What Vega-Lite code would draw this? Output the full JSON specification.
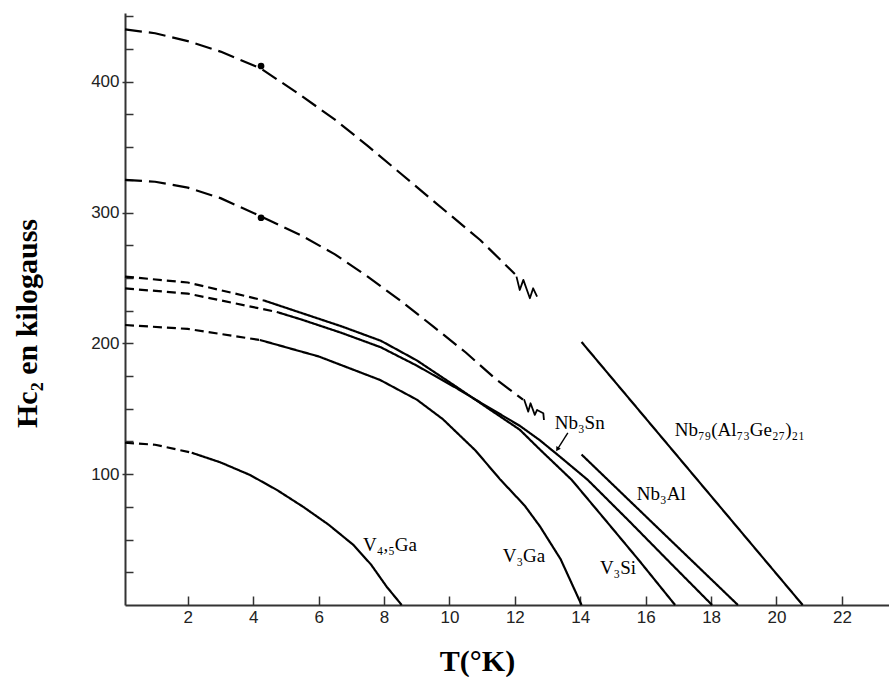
{
  "$schema": "https://vega.github.io/schema/vega-lite/v6.json",
  "width": 764,
  "height": 592,
  "autosize": {"type": "none"},
  "padding": {"left": 125, "top": 13, "right": 0, "bottom": 72},
  "background": "white",
  "config": {"view": {"stroke": null}, "axis": {"grid": false}},
  "resolve": {"axis": {"y": "independent"}},
  "datasets": {
    "curves": [
      {"serie": "V45Ga", "trace": "extrapole", "T": 0.08, "H": 124},
      {"serie": "V45Ga", "trace": "extrapole", "T": 1.0, "H": 122.5},
      {"serie": "V45Ga", "trace": "extrapole", "T": 2.12, "H": 116.4},
      {"serie": "V45Ga", "trace": "mesure", "T": 2.12, "H": 116.4},
      {"serie": "V45Ga", "trace": "mesure", "T": 3.0, "H": 109},
      {"serie": "V45Ga", "trace": "mesure", "T": 3.9, "H": 99.4},
      {"serie": "V45Ga", "trace": "mesure", "T": 4.72, "H": 88},
      {"serie": "V45Ga", "trace": "mesure", "T": 5.53, "H": 75},
      {"serie": "V45Ga", "trace": "mesure", "T": 6.3, "H": 61.5},
      {"serie": "V45Ga", "trace": "mesure", "T": 7.06, "H": 46},
      {"serie": "V45Ga", "trace": "mesure", "T": 7.6, "H": 31},
      {"serie": "V45Ga", "trace": "mesure", "T": 8.08, "H": 14},
      {"serie": "V45Ga", "trace": "mesure", "T": 8.54, "H": 0},

      {"serie": "V3Ga", "trace": "extrapole", "T": 0.08, "H": 214},
      {"serie": "V3Ga", "trace": "extrapole", "T": 2.0, "H": 211},
      {"serie": "V3Ga", "trace": "extrapole", "T": 4.2, "H": 202.6},
      {"serie": "V3Ga", "trace": "mesure", "T": 4.2, "H": 202.6},
      {"serie": "V3Ga", "trace": "mesure", "T": 6.0, "H": 190},
      {"serie": "V3Ga", "trace": "mesure", "T": 7.88, "H": 172},
      {"serie": "V3Ga", "trace": "mesure", "T": 9.0, "H": 157},
      {"serie": "V3Ga", "trace": "mesure", "T": 9.8, "H": 142},
      {"serie": "V3Ga", "trace": "mesure", "T": 10.8, "H": 118},
      {"serie": "V3Ga", "trace": "mesure", "T": 11.55, "H": 96},
      {"serie": "V3Ga", "trace": "mesure", "T": 12.3, "H": 76},
      {"serie": "V3Ga", "trace": "mesure", "T": 12.77, "H": 60},
      {"serie": "V3Ga", "trace": "mesure", "T": 13.4, "H": 35},
      {"serie": "V3Ga", "trace": "mesure", "T": 14.04, "H": 0},

      {"serie": "V3Si", "trace": "extrapole", "T": 0.08, "H": 251},
      {"serie": "V3Si", "trace": "extrapole", "T": 2.0, "H": 246.5},
      {"serie": "V3Si", "trace": "extrapole", "T": 4.3, "H": 233},
      {"serie": "V3Si", "trace": "mesure", "T": 4.3, "H": 233},
      {"serie": "V3Si", "trace": "mesure", "T": 5.5, "H": 223},
      {"serie": "V3Si", "trace": "mesure", "T": 6.7, "H": 213},
      {"serie": "V3Si", "trace": "mesure", "T": 7.9, "H": 202},
      {"serie": "V3Si", "trace": "mesure", "T": 9.0, "H": 187},
      {"serie": "V3Si", "trace": "mesure", "T": 10.2, "H": 167},
      {"serie": "V3Si", "trace": "mesure", "T": 11.2, "H": 150},
      {"serie": "V3Si", "trace": "mesure", "T": 12.15, "H": 134},
      {"serie": "V3Si", "trace": "mesure", "T": 12.76, "H": 119},
      {"serie": "V3Si", "trace": "mesure", "T": 13.74, "H": 95.6},
      {"serie": "V3Si", "trace": "mesure", "T": 14.8, "H": 64},
      {"serie": "V3Si", "trace": "mesure", "T": 15.8, "H": 34},
      {"serie": "V3Si", "trace": "mesure", "T": 16.9, "H": 0},

      {"serie": "Nb3Sn", "trace": "extrapole", "T": 0.08, "H": 242},
      {"serie": "Nb3Sn", "trace": "extrapole", "T": 2.0, "H": 238},
      {"serie": "Nb3Sn", "trace": "extrapole", "T": 4.72, "H": 224},
      {"serie": "Nb3Sn", "trace": "mesure", "T": 4.72, "H": 224},
      {"serie": "Nb3Sn", "trace": "mesure", "T": 5.5, "H": 218},
      {"serie": "Nb3Sn", "trace": "mesure", "T": 6.7, "H": 208},
      {"serie": "Nb3Sn", "trace": "mesure", "T": 7.9, "H": 197},
      {"serie": "Nb3Sn", "trace": "mesure", "T": 9.0, "H": 183},
      {"serie": "Nb3Sn", "trace": "mesure", "T": 10.2, "H": 166},
      {"serie": "Nb3Sn", "trace": "mesure", "T": 11.2, "H": 151},
      {"serie": "Nb3Sn", "trace": "mesure", "T": 12.15, "H": 137},
      {"serie": "Nb3Sn", "trace": "mesure", "T": 12.76, "H": 126},
      {"serie": "Nb3Sn", "trace": "mesure", "T": 13.3, "H": 115},
      {"serie": "Nb3Sn", "trace": "mesure", "T": 14.23, "H": 95.6},
      {"serie": "Nb3Sn", "trace": "mesure", "T": 15.5, "H": 64},
      {"serie": "Nb3Sn", "trace": "mesure", "T": 16.8, "H": 31},
      {"serie": "Nb3Sn", "trace": "mesure", "T": 18.03, "H": 0},

      {"serie": "Nb3Al", "trace": "mesure", "T": 14.04, "H": 115},
      {"serie": "Nb3Al", "trace": "mesure", "T": 18.82, "H": 0},

      {"serie": "Nb79", "trace": "mesure", "T": 14.04, "H": 201},
      {"serie": "Nb79", "trace": "mesure", "T": 20.8, "H": 0},

      {"serie": "haut", "trace": "estime", "T": 0.08, "H": 440},
      {"serie": "haut", "trace": "estime", "T": 1.0, "H": 437},
      {"serie": "haut", "trace": "estime", "T": 2.0, "H": 431},
      {"serie": "haut", "trace": "estime", "T": 3.0, "H": 423},
      {"serie": "haut", "trace": "estime", "T": 4.24, "H": 410},
      {"serie": "haut", "trace": "estime", "T": 5.43, "H": 390},
      {"serie": "haut", "trace": "estime", "T": 6.5, "H": 371},
      {"serie": "haut", "trace": "estime", "T": 7.5, "H": 351},
      {"serie": "haut", "trace": "estime", "T": 8.5, "H": 330},
      {"serie": "haut", "trace": "estime", "T": 9.5, "H": 309},
      {"serie": "haut", "trace": "estime", "T": 10.94, "H": 279},
      {"serie": "haut", "trace": "estime", "T": 12.0, "H": 253},

      {"serie": "milieu", "trace": "estime", "T": 0.08, "H": 325},
      {"serie": "milieu", "trace": "estime", "T": 1.0, "H": 323.5},
      {"serie": "milieu", "trace": "estime", "T": 2.0, "H": 319},
      {"serie": "milieu", "trace": "estime", "T": 3.0, "H": 311},
      {"serie": "milieu", "trace": "estime", "T": 4.24, "H": 297},
      {"serie": "milieu", "trace": "estime", "T": 5.43, "H": 283},
      {"serie": "milieu", "trace": "estime", "T": 6.5, "H": 268},
      {"serie": "milieu", "trace": "estime", "T": 7.5, "H": 251},
      {"serie": "milieu", "trace": "estime", "T": 8.48, "H": 233},
      {"serie": "milieu", "trace": "estime", "T": 9.5, "H": 213},
      {"serie": "milieu", "trace": "estime", "T": 10.5, "H": 193},
      {"serie": "milieu", "trace": "estime", "T": 11.4, "H": 173},
      {"serie": "milieu", "trace": "estime", "T": 12.25, "H": 157}
    ],
    "squiggles": [
      {"serie": "s1", "k": 1, "T": 12.05, "H": 251},
      {"serie": "s1", "k": 2, "T": 12.15, "H": 240.8},
      {"serie": "s1", "k": 3, "T": 12.26, "H": 248.5},
      {"serie": "s1", "k": 4, "T": 12.46, "H": 234.5},
      {"serie": "s1", "k": 5, "T": 12.56, "H": 242.1},
      {"serie": "s1", "k": 6, "T": 12.68, "H": 235.7},
      {"serie": "s2", "k": 1, "T": 12.28, "H": 157.3},
      {"serie": "s2", "k": 2, "T": 12.41, "H": 147.8},
      {"serie": "s2", "k": 3, "T": 12.48, "H": 154.2},
      {"serie": "s2", "k": 4, "T": 12.61, "H": 145.3},
      {"serie": "s2", "k": 5, "T": 12.68, "H": 149.1},
      {"serie": "s2", "k": 6, "T": 12.87, "H": 146.6},
      {"serie": "s2", "k": 7, "T": 12.89, "H": 141.4}
    ],
    "arrow": [
      {"k": 1, "T": 13.62, "H": 131.5},
      {"k": 2, "T": 13.3, "H": 119}
    ],
    "dots": [
      {"T": 4.24, "H": 412},
      {"T": 4.24, "H": 296}
    ],
    "labels": [
      {"texte": "Nb₃Sn", "T": 13.22, "H": 139},
      {"texte": "Nb₃Al", "T": 15.73, "H": 85},
      {"texte": "Nb₇₉(Al₇₃Ge₂₇)₂₁", "T": 16.89, "H": 134},
      {"texte": "V₃Si", "T": 14.6, "H": 28.3},
      {"texte": "V₃Ga", "T": 11.63, "H": 37.5},
      {"texte": "V₄,₅Ga", "T": 7.36, "H": 46}
    ]
  },
  "layer": [
    {
      "data": {"name": "curves"},
      "mark": {"type": "line", "color": "black", "strokeWidth": 2.2, "strokeCap": "butt", "strokeJoin": "round"},
      "encoding": {
        "x": {
          "field": "T", "type": "quantitative",
          "scale": {"domain": [0.08, 23.44], "nice": false, "zero": false},
          "axis": {
            "values": [2, 4, 6, 8, 10, 12, 14, 16, 18, 20, 22],
            "tickSize": -9, "tickWidth": 1.5, "tickColor": "#333",
            "domainColor": "#333", "domainWidth": 2,
            "labelFont": "Liberation Sans", "labelFontSize": 17, "labelColor": "#222",
            "labelPadding": 13, "labelOverlap": false,
            "title": "T(°K)", "titleFont": "Liberation Serif", "titleFontWeight": "bold",
            "titleFontSize": 30, "titleColor": "black",
            "titleX": 352, "titleY": 65, "titleBaseline": "alphabetic", "titleAlign": "center"
          }
        },
        "y": {
          "field": "H", "type": "quantitative",
          "scale": {"domain": [0, 452.5], "nice": false},
          "axis": {
            "orient": "left",
            "values": [100, 200, 300, 400],
            "tickSize": 3, "tickWidth": 1.5, "tickColor": "#333",
            "domainColor": "#333", "domainWidth": 2,
            "labelFont": "Liberation Sans", "labelFontSize": 17, "labelColor": "#222",
            "labelPadding": 3, "labelOverlap": false,
            "title": "Hc₂ en kilogauss", "titleFont": "Liberation Serif", "titleFontWeight": "bold",
            "titleFontSize": 30, "titleColor": "black", "titleAngle": -90,
            "titleX": -89, "titleY": 310, "titleBaseline": "alphabetic", "titleAlign": "center"
          }
        },
        "detail": {"field": "serie", "type": "nominal"},
        "strokeDash": {
          "field": "trace", "type": "nominal",
          "scale": {"domain": ["extrapole", "estime", "mesure"], "range": [[9, 5], [17, 7], [1, 0]]},
          "legend": null
        },
        "order": {"field": "T", "type": "quantitative"}
      }
    },
    {
      "data": {"name": "squiggles"},
      "mark": {"type": "line", "color": "black", "strokeWidth": 1.8, "strokeJoin": "round"},
      "encoding": {
        "x": {"field": "T", "type": "quantitative"},
        "y": {
          "field": "H", "type": "quantitative",
          "axis": {
            "orient": "left",
            "values": [25, 50, 75, 100, 125, 150, 175, 200, 225, 250, 275, 300, 325, 350, 375, 400, 425, 450],
            "tickSize": -8, "tickWidth": 1.5, "tickColor": "#333",
            "domain": false, "labels": false, "title": null, "grid": false
          }
        },
        "detail": {"field": "serie", "type": "nominal"},
        "order": {"field": "k", "type": "quantitative"}
      }
    },
    {
      "data": {"name": "arrow"},
      "mark": {"type": "line", "color": "black", "strokeWidth": 1.4},
      "encoding": {
        "x": {"field": "T", "type": "quantitative"},
        "y": {"field": "H", "type": "quantitative", "axis": null},
        "order": {"field": "k", "type": "quantitative"}
      }
    },
    {
      "data": {"name": "arrow"},
      "transform": [{"filter": "datum.k === 2"}],
      "mark": {"type": "point", "shape": "triangle-up", "filled": true, "color": "black", "size": 28, "angle": 212, "opacity": 1},
      "encoding": {
        "x": {"field": "T", "type": "quantitative"},
        "y": {"field": "H", "type": "quantitative", "axis": null}
      }
    },
    {
      "data": {"name": "dots"},
      "mark": {"type": "point", "filled": true, "color": "black", "size": 45, "opacity": 1},
      "encoding": {
        "x": {"field": "T", "type": "quantitative"},
        "y": {"field": "H", "type": "quantitative", "axis": null}
      }
    },
    {
      "data": {"name": "labels"},
      "mark": {"type": "text", "font": "Liberation Serif", "fontSize": 19, "align": "left", "baseline": "middle", "color": "black"},
      "encoding": {
        "x": {"field": "T", "type": "quantitative"},
        "y": {"field": "H", "type": "quantitative", "axis": null},
        "text": {"field": "texte", "type": "nominal"}
      }
    }
  ]
}
